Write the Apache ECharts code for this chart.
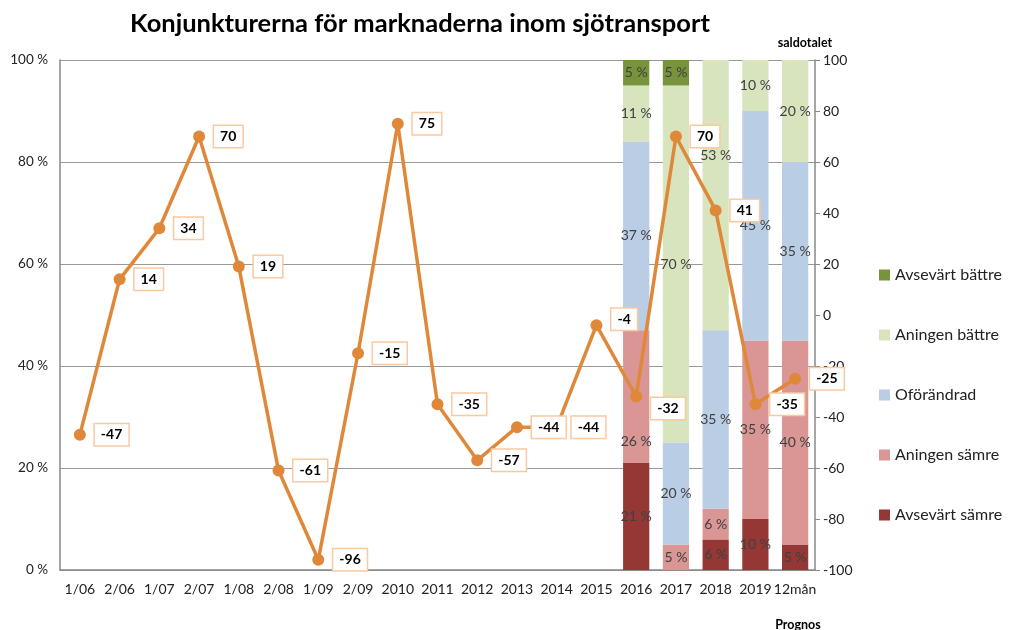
<!DOCTYPE html>
<html><head><meta charset="utf-8">
<script src="https://cdn.jsdelivr.net/npm/echarts@6/dist/echarts.min.js"></script>
<style>html,body{margin:0;padding:0;background:#fff}#c{width:1032px;height:630px}</style>
</head><body><div id="c"></div>
<script>
const categories = ['1/06','2/06','1/07','2/07','1/08','2/08','1/09','2/09','2010','2011','2012','2013','2014','2015','2016','2017','2018','2019','12mån'];
const saldotalet = [-47,14,34,70,19,-61,-96,-15,75,-35,-57,-44,-44,-4,-32,70,41,-35,-25];
const N = null;
const avsevartSamre  = [N,N,N,N,N,N,N,N,N,N,N,N,N,N,21,N,6,10,5];
const aningenSamre   = [N,N,N,N,N,N,N,N,N,N,N,N,N,N,26,5,6,35,40];
const oforandrad     = [N,N,N,N,N,N,N,N,N,N,N,N,N,N,37,20,35,45,35];
const aningenBattre  = [N,N,N,N,N,N,N,N,N,N,N,N,N,N,11,70,53,10,20];
const avsevartBattre = [N,N,N,N,N,N,N,N,N,N,N,N,N,N,5,5,N,N,N];

// manual label nudges (as in the original, where some labels were moved)
const labelNudge = { 'Aningen sämre': { 14: 45 }, 'Aningen bättre': { 16: -40 } };
const lineLabelNudge = { 13: [0, -6], 14: [0, 12] };

const FONT = 'Lato, Open Sans, sans-serif';
const chart = echarts.init(document.getElementById('c'));
function barSeries(name, data, color) {
  const nudge = labelNudge[name] || {};
  return {
    name, type: 'bar', stack: 'a', yAxisIndex: 0, barWidth: '66%',
    data: data.map((v, i) => nudge[i] != null ? { value: v, label: { offset: [0, nudge[i]] } } : v),
    itemStyle: { color },
    label: { show: true, position: 'inside', formatter: p => p.value == null ? '' : p.value + ' %',
      color: '#404040', fontSize: 14, fontFamily: FONT }
  };
}
chart.setOption({
  animation: false,
  textStyle: { fontFamily: FONT },
  title: [
    { text: 'Konjunkturerna för marknaderna inom sjötransport', left: 415, top: 6, textAlign: 'center',
      textStyle: { fontSize: 25.5, fontWeight: 'bold', color: '#000', fontFamily: FONT } },
    { text: 'saldotalet', left: 800, top: 31, textAlign: 'center',
      textStyle: { fontSize: 12.5, fontWeight: 'bold', color: '#000', fontFamily: FONT } },
    { text: 'Prognos', left: 793, top: 613, textAlign: 'center',
      textStyle: { fontSize: 12.5, fontWeight: 'bold', color: '#000', fontFamily: FONT } }
  ],
  legend: {
    orient: 'vertical', left: 874, top: 262, itemGap: 44, itemWidth: 11, itemHeight: 11,
    icon: 'rect',
    data: ['Avsevärt bättre','Aningen bättre','Oförändrad','Aningen sämre','Avsevärt sämre'],
    textStyle: { fontSize: 16, color: '#222', fontFamily: FONT }
  },
  grid: { left: 60, right: 217, top: 60, bottom: 60 },
  xAxis: {
    type: 'category', data: categories,
    axisLine: { lineStyle: { color: '#888', width: 1.5 } },
    axisTick: { show: false },
    axisLabel: { interval: 0, color: '#222', fontSize: 14, margin: 12, fontFamily: FONT }
  },
  yAxis: [
    { type: 'value', min: 0, max: 100, interval: 20,
      axisLine: { show: true, lineStyle: { color: '#888', width: 1.5 } },
      axisTick: { show: false },
      splitLine: { lineStyle: { color: '#999', width: 1.2 } },
      axisLabel: { formatter: v => v + ' %', color: '#222', fontSize: 13.5, margin: 12, fontFamily: FONT } },
    { type: 'value', min: -100, max: 100, interval: 20, position: 'right',
      axisLine: { show: true, lineStyle: { color: '#888', width: 1.5 } },
      axisTick: { show: true, length: 5, lineStyle: { color: '#888' } },
      splitLine: { show: false },
      axisLabel: { color: '#222', fontSize: 14, margin: 8, fontFamily: FONT } }
  ],
  series: [
    barSeries('Avsevärt sämre', avsevartSamre, '#953735'),
    barSeries('Aningen sämre', aningenSamre, '#d99694'),
    barSeries('Oförändrad', oforandrad, '#b9cde5'),
    barSeries('Aningen bättre', aningenBattre, '#d7e4bd'),
    barSeries('Avsevärt bättre', avsevartBattre, '#77933c'),
    { name: 'saldotalet', type: 'line', yAxisIndex: 1,
      data: saldotalet.map((v, i) => lineLabelNudge[i] ? { value: v, label: { offset: lineLabelNudge[i] } } : v),
      symbol: 'circle', symbolSize: 12,
      lineStyle: { color: '#e0883a', width: 3.5 },
      itemStyle: { color: '#e0883a' },
      label: { show: true, position: 'right', distance: 9, color: '#000', fontWeight: 'bold', fontSize: 14,
        fontFamily: FONT, backgroundColor: '#fff', borderColor: '#f9c9a0', borderWidth: 1.5,
        padding: [4, 6, 3, 6] },
      z: 5 }
  ]
});
</script></body></html>
